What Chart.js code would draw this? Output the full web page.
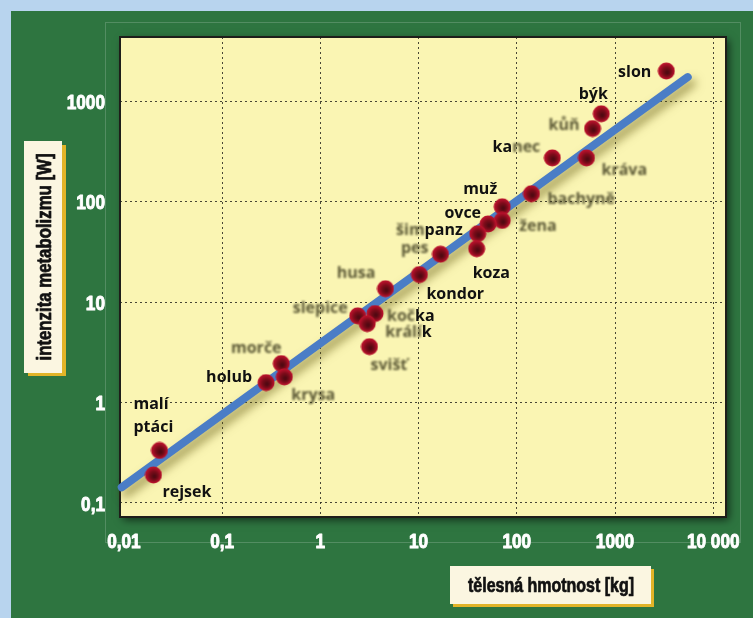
<!DOCTYPE html>
<html lang="cs">
<head>
<meta charset="utf-8">
<title>Intenzita metabolizmu</title>
<script src="https://cdn.jsdelivr.net/npm/chart.js@4.4.1/dist/chart.umd.min.js"></script>
<style>
  html, body { margin: 0; padding: 0; background: #b8d4ee; }
  #wrap { width: 753px; height: 618px; position: relative; }
</style>
</head>
<body>
<div id="wrap"><canvas id="chart" width="753" height="618"></canvas></div>
<script>
// živočichové: hmotnost [kg] a intenzita metabolizmu [W]
const animals = ["slon", "býk", "kůň", "kanec", "kráva", "bachyně", "muž", "žena", "ovce", "šimpanz", "koza", "pes",
  "kondor", "husa", "slepice", "kočka", "králík", "svišť", "morče", "krysa", "holub", "malí ptáci", "rejsek"];
const massKg = [3330, 725, 590, 230, 512, 141, 71, 71, 51, 40, 39, 16.7,
  10.2, 4.6, 2.4, 3.6, 3.0, 3.16, 0.40, 0.43, 0.28, 0.023, 0.020];
const powerW = [2000, 751, 535, 273, 273, 120, 89, 65, 60, 48, 34, 30,
  18.8, 13.6, 7.3, 7.7, 6.1, 3.6, 2.44, 1.8, 1.58, 0.333, 0.19];

// regresní přímka
const fitMass = [0.0095, 5500];
const fitPower = [0.143, 1740];

const xTicks = [0.01, 0.1, 1, 10, 100, 1000, 10000];
const xTickLabels = ["0,01", "0,1", "1", "10", "100", "1000", "10 000"];
const yTicks = [0.1, 1, 10, 100, 1000];
const yTickLabels = ["0,1", "1", "10", "100", "1000"];

const xTitle = "tělesná hmotnost [kg]";
const yTitle = "intenzita metabolizmu [W]";

// umístění popisků vůči bodu: dx, dy, zarovnání, rozmazaná část textu
const labelPos = {
  "slon":       { dx: -15, dy: 1,   align: "right" },
  "býk":        { dx: -8,  dy: -19, align: "center" },
  "kůň":        { dx: -13, dy: -3,  align: "right", soft: "all" },
  "kanec":      { dx: -12, dy: -10, align: "right", soft: [2, 5] },
  "kráva":      { dx: 15,  dy: 13,  align: "left", soft: "all" },
  "bachyně":    { dx: 16,  dy: 6,   align: "left", soft: "all" },
  "muž":        { dx: -5,  dy: -17, align: "right" },
  "žena":       { dx: 17,  dy: 6,   align: "left", soft: "all" },
  "ovce":       { dx: -7,  dy: -11, align: "right" },
  "šimpanz":    { dx: -15, dy: -3,  align: "right", soft: [0, 3] },
  "koza":       { dx: -4,  dy: 25,  align: "left" },
  "pes":        { dx: -12, dy: -6,  align: "right", soft: "all" },
  "kondor":     { dx: 7,   dy: 20,  align: "left" },
  "husa":       { dx: -10, dy: -15, align: "right", soft: "all" },
  "slepice":    { dx: -10, dy: -7,  align: "right", soft: "all" },
  "kočka":      { dx: 12,  dy: 3,   align: "left", soft: [0, 3] },
  "králík":     { dx: 18,  dy: 9,   align: "left", soft: [0, 5] },
  "svišť":      { dx: 1,   dy: 19,  align: "left", soft: "all" },
  "morče":      { dx: -25, dy: -15, align: "center", soft: "all" },
  "krysa":      { dx: 7,   dy: 19,  align: "left", soft: "all" },
  "holub":      { dx: -14, dy: -5,  align: "right" },
  "malí ptáci": { dx: -26, dy: -46, align: "left", wrap: 23 },
  "rejsek":     { dx: 9,   dy: 17,  align: "left" }
};

const labelFont = "bold 16px 'Open Sans', 'Noto Sans', sans-serif";
// úzké písmo: Liberation Sans stažené do šířky
const narrowFont = (px) => "bold " + px + "px 'Liberation Sans', Arial, sans-serif";
const narrow = 0.82;

// červená kulička s tmavým středem
function makeDot() {
  const c = document.createElement("canvas");
  c.width = 18; c.height = 18;
  const g = c.getContext("2d");
  const grad = g.createRadialGradient(10, 10.5, 1, 9, 9, 8.5);
  grad.addColorStop(0, "#520912");
  grad.addColorStop(0.45, "#7c0c1a");
  grad.addColorStop(0.8, "#ab1028");
  grad.addColorStop(1, "#c0142e");
  g.fillStyle = grad;
  g.beginPath();
  g.arc(9, 9, 8.5, 0, Math.PI * 2);
  g.fill();
  return c;
}

// text stažený do šířky, obrys ho trochu zesílí
function narrowText(ctx, text, x, y, align, sx, heavy) {
  ctx.save();
  ctx.translate(x, y);
  ctx.scale(sx, 1);
  ctx.textAlign = align;
  if (heavy) {
    ctx.strokeStyle = ctx.fillStyle;
    ctx.lineWidth = heavy;
    ctx.lineJoin = "round";
    ctx.strokeText(text, 0, 0);
  }
  ctx.fillText(text, 0, 0);
  ctx.restore();
}

// pozadí, rámeček grafu a popisky os
const frame = {
  id: "frame",
  beforeDraw(chart) {
    const ctx = chart.ctx;
    const a = chart.chartArea;
    ctx.save();
    ctx.fillStyle = "#b8d4ee";
    ctx.fillRect(0, 0, 753, 618);
    ctx.fillStyle = "#2e7540";
    ctx.fillRect(11, 11, 742, 607);

    ctx.strokeStyle = "rgba(255,255,255,0.18)";
    ctx.lineWidth = 1;
    ctx.strokeRect(105.5, 22.5, 635, 520);

    ctx.shadowColor = "rgba(0,0,0,0.6)";
    ctx.shadowBlur = 8;
    ctx.shadowOffsetX = 3;
    ctx.shadowOffsetY = 3;
    ctx.fillStyle = "#faf5b3";
    ctx.fillRect(a.left, a.top, a.right - a.left, a.bottom - a.top);
    ctx.restore();

    // popisky os v rámečcích
    ctx.save();
    ctx.fillStyle = "#e2b428";
    ctx.fillRect(28, 145, 38, 231);
    ctx.fillStyle = "#fbf6e1";
    ctx.fillRect(24, 141, 38, 232);
    ctx.fillStyle = "#e2b428";
    ctx.fillRect(453, 569, 201, 38);
    ctx.fillStyle = "#fbf6e1";
    ctx.fillRect(450, 566, 201, 38);

    ctx.fillStyle = "#111";
    ctx.font = narrowFont(20);
    ctx.textBaseline = "middle";
    const wx = ctx.measureText(xTitle).width;
    narrowText(ctx, xTitle, 551, 586, "center", 166 / wx, 0.7);
    const wy = ctx.measureText(yTitle).width;
    ctx.translate(44, 257);
    ctx.rotate(-Math.PI / 2);
    narrowText(ctx, yTitle, 0, 1, "center", 207 / wy, 0.7);
    ctx.restore();
  },
  beforeDatasetsDraw(chart) {
    const ctx = chart.ctx;
    const a = chart.chartArea;
    ctx.save();
    ctx.strokeStyle = "#1e1e1a";
    ctx.lineWidth = 2;
    ctx.strokeRect(a.left, a.top, a.right - a.left, a.bottom - a.top);

    // hodnoty na osách
    ctx.fillStyle = "#ffffff";
    ctx.font = narrowFont(21);
    ctx.textBaseline = "middle";
    const xs = chart.scales.x, ys = chart.scales.y;
    xTicks.forEach((v, i) => {
      narrowText(ctx, xTickLabels[i], xs.getPixelForValue(v), a.bottom + 25, "center", narrow, 1);
    });
    yTicks.forEach((v, i) => {
      narrowText(ctx, yTickLabels[i], a.left - 15, ys.getPixelForValue(v) + 2, "right", narrow, 1);
    });
    ctx.restore();
  }
};

// stín pod regresní přímkou
const lineShadow = {
  id: "lineShadow",
  beforeDatasetDraw(chart, args) {
    if (args.index !== 1) return;
    const ctx = chart.ctx;
    ctx.save();
    ctx.shadowColor = "rgba(90,80,10,0.55)";
    ctx.shadowBlur = 10;
    ctx.shadowOffsetX = 4;
    ctx.shadowOffsetY = 6;
  },
  afterDatasetDraw(chart, args) {
    if (args.index !== 1) return;
    chart.ctx.restore();
  }
};

// jména živočichů u bodů
function drawPiece(ctx, text, x, y, soft) {
  ctx.save();
  if (soft) {
    ctx.filter = "blur(0.9px)";
    ctx.fillStyle = "rgba(62,60,30,0.85)";
  } else {
    ctx.fillStyle = "#111";
  }
  ctx.fillText(text, x, y);
  ctx.restore();
}

const nameLabels = {
  id: "nameLabels",
  afterDatasetsDraw(chart) {
    const ctx = chart.ctx;
    const xs = chart.scales.x, ys = chart.scales.y;
    ctx.save();
    ctx.font = labelFont;
    ctx.textBaseline = "middle";
    ctx.textAlign = "left";
    animals.forEach((name, i) => {
      const p = labelPos[name];
      const px = xs.getPixelForValue(massKg[i]) + p.dx;
      const py = ys.getPixelForValue(powerW[i]) + p.dy;
      const lines = p.wrap ? name.split(" ") : [name];
      lines.forEach((line, k) => {
        const y = py + k * (p.wrap || 0);
        const w = ctx.measureText(line).width;
        let x = px;
        if (p.align === "right") x = px - w;
        if (p.align === "center") x = px - w / 2;
        if (!p.soft) {
          drawPiece(ctx, line, x, y, false);
        } else if (p.soft === "all") {
          drawPiece(ctx, line, x, y, true);
        } else {
          const [s, e] = p.soft;
          const pre = line.slice(0, s), mid = line.slice(s, e), post = line.slice(e);
          let cx = x;
          if (pre) { drawPiece(ctx, pre, cx, y, false); cx += ctx.measureText(pre).width; }
          drawPiece(ctx, mid, cx, y, true); cx += ctx.measureText(mid).width;
          if (post) drawPiece(ctx, post, cx, y, false);
        }
      });
    });
    ctx.restore();
  }
};

const points = massKg.map((m, i) => ({ x: m, y: powerW[i] }));
const fitLine = fitMass.map((m, i) => ({ x: m, y: fitPower[i] }));

new Chart(document.getElementById("chart"), {
  type: "scatter",
  data: {
    datasets: [
      {
        label: "živočichové",
        data: points,
        pointStyle: makeDot(),
        pointRadius: 9,
        pointHoverRadius: 9
      },
      {
        type: "line",
        label: "regrese",
        data: fitLine,
        borderColor: "#4a7dc6",
        borderWidth: 8,
        borderCapStyle: "round",
        pointRadius: 0,
        fill: false,
        clip: false
      }
    ]
  },
  options: {
    responsive: false,
    devicePixelRatio: 1,
    animation: false,
    layout: { padding: { left: 0, top: 37, right: 27, bottom: 0 } },
    plugins: {
      legend: { display: false },
      tooltip: { enabled: false }
    },
    scales: {
      x: {
        type: "logarithmic",
        min: Math.pow(10, -2.04),
        max: Math.pow(10, 4.13),
        afterBuildTicks: (scale) => { scale.ticks = xTicks.map(v => ({ value: v })); },
        afterFit: (scale) => { scale.height = 101; },
        grid: {
          color: (c) => c.index === 0 ? "transparent" : "rgba(40,40,30,0.85)",
          lineWidth: 1,
          drawTicks: false
        },
        border: { display: false, dash: [2, 3] },
        ticks: { display: false, autoSkip: false }
      },
      y: {
        type: "logarithmic",
        min: Math.pow(10, -1.14),
        max: Math.pow(10, 3.64),
        afterBuildTicks: (scale) => { scale.ticks = yTicks.map(v => ({ value: v })); },
        afterFit: (scale) => { scale.width = 120; },
        grid: {
          color: "rgba(40,40,30,0.85)",
          lineWidth: 1,
          drawTicks: false
        },
        border: { display: false, dash: [2, 3] },
        ticks: { display: false, autoSkip: false }
      }
    }
  },
  plugins: [frame, lineShadow, nameLabels]
});
</script>
</body>
</html>
